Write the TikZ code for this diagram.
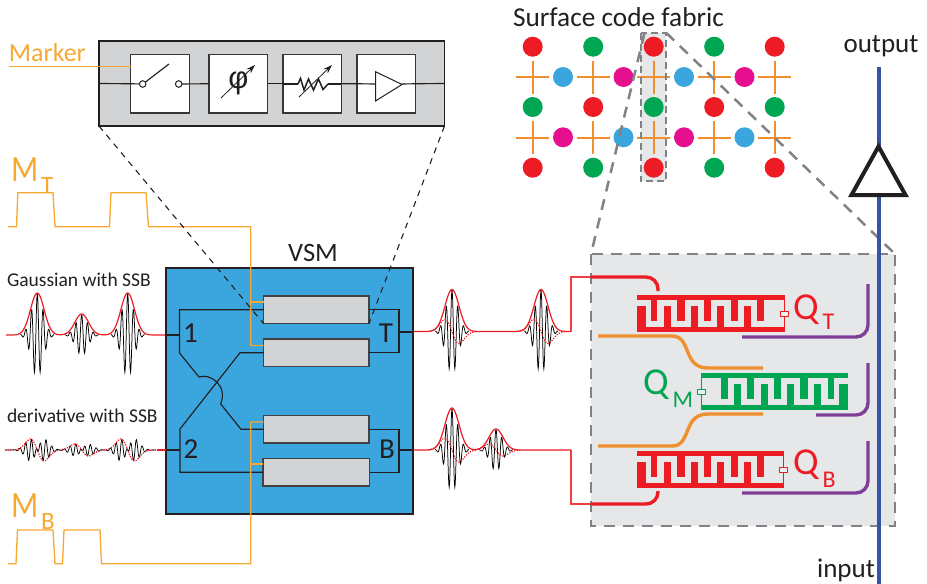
\documentclass[tikz,border=0pt]{standalone}
\usepackage{fontspec}
\usepackage{graphicx}
\setmainfont{Carlito}
\newfontfamily\phifont{Liberation Sans}
\usetikzlibrary{arrows.meta}
\definecolor{mkorange}{HTML}{F7A833}
\definecolor{cqorange}{HTML}{F08F2D}
\definecolor{qred}{HTML}{ED1C24}
\definecolor{qgreen}{HTML}{00A651}
\definecolor{qblue}{HTML}{3AA6DD}
\definecolor{qmag}{HTML}{E6108E}
\definecolor{qpurple}{HTML}{7F3F98}
\definecolor{lineblue}{HTML}{3953A4}
\definecolor{boxgray}{HTML}{D1D3D4}
\definecolor{panelgray}{HTML}{E6E7E8}
\definecolor{dashgray}{HTML}{808285}
\definecolor{ink}{HTML}{231F20}
\newcommand{\fs}[1]{\fontsize{#1}{#1}\selectfont}
\tikzset{
  x=1pt,y=-1pt,
  declare function={gs(\u,\c,\a,\s)=\a*exp(-0.5*((\u-\c)/\s)*((\u-\c)/\s));
    dg(\u,\c,\a,\s)=-\a*1.6487*((\u-\c)/\s)*exp(-0.5*((\u-\c)/\s)*((\u-\c)/\s));},
  lbl/.style={inner sep=0pt,outer sep=0pt,text=ink},
  wire/.style={draw=ink,line width=1.15pt},
  gbox/.style={draw=ink!85,fill=boxgray,line width=1.15pt,inner sep=0pt,outer sep=0pt,minimum height=27.5pt,minimum width=105.5pt},
  wbox/.style={draw=ink!90,fill=white,line width=1.15pt,inner sep=0pt,outer sep=0pt,minimum height=58.5pt,minimum width=58.5pt},
  marker line/.style={draw=mkorange,line width=1.3pt},
  carrier/.style={draw=black,line width=0.75pt},
  envelope/.style={draw=qred,line width=1.2pt},
  dots/.style={draw=qred,line width=1.2pt,dash pattern=on 1.3pt off 1.3pt},
  feed/.style={draw=qred,line width=1.2pt,opacity=.85},
  graydash/.style={draw=dashgray,line width=2.5pt,dash pattern=on 11pt off 8pt},
  qc/.style={circle,inner sep=0pt,outer sep=0pt,minimum size=20pt,fill=#1},
  xarm/.style={draw=cqorange,line width=2pt},
  cpw/.style={line width=3.4pt,line cap=butt,rounded corners=12pt},
}
\newcommand{\burst}[4]{% centre, base, amplitude, sigma
  \pgfmathsetmacro{\da}{#1-2.9*#4}\pgfmathsetmacro{\db}{#1+2.9*#4}
  \draw[carrier] plot[domain=\da:\db,samples=90] (\x,{#2-gs(\x,#1,#3,#4)*cos(62.07*(\x-#1))});
}
\newcommand{\outdots}[4]{%
  \pgfmathsetmacro{\da}{#1-3.4*#4}\pgfmathsetmacro{\db}{#1+3.4*#4}
  \draw[dots] plot[domain=\da:\db,samples=40] (\x,{#2-dg(\x,#1,#3,#4)});
}
\newcommand{\transmon}[2]{% colour, scope options
  \begin{scope}[#2]
    \fill[#1] (0,0) rectangle (147,4.5);
    \fill[#1] (0,32) rectangle (147,37);
    \foreach \a/\b in {14/20,40/48,67/74,94/101,120/127}{\fill[#1] (\a,4) rectangle (\b,26);}
    \foreach \a/\b in {0/9,27/34,54/61,80/87,107/114}{\fill[#1] (\a,11) rectangle (\b,33);}
    \draw[#1,line width=.7pt] (147,0) -- (147,37);
    \draw[#1,line width=.8pt,fill=panelgray!60!white] (143,16) rectangle (151,21);
  \end{scope}
}
\newcommand{\bigM}{\scalebox{0.86}[1]{\fs{37}M}}
\begin{document}
\begin{tikzpicture}
\useasboundingbox (0,0) rectangle (927,584);

% ---------- surface code fabric
\node[lbl,anchor=base west] (fabric) at (513,26) {\fs{27.3}Surface code fabric};
\node[draw=none,fill=panelgray,inner sep=0pt,minimum width=25pt,minimum height=148pt] (hl) at (653.5,107) {};
\foreach \xc in {532.7,593.2,653.7,714.2,774.7}\foreach \yc in {77,137.5}{
  \draw[xarm] (\xc-16.5,\yc) -- (\xc+16.5,\yc);
  \draw[xarm] (\xc,\yc-16.5) -- (\xc,\yc+16.5);
}
\foreach \xc/\yc/\cc in {532.7/46.7/qred,593.2/46.7/qgreen,653.7/46.7/qred,714.2/46.7/qgreen,774.7/46.7/qred,
  532.7/107/qgreen,593.2/107/qred,653.7/107/qgreen,714.2/107/qred,774.7/107/qgreen,
  532.7/167.7/qred,593.2/167.7/qgreen,653.7/167.7/qred,714.2/167.7/qgreen,774.7/167.7/qred,
  563/77/qblue,623.5/77/qmag,684/77/qblue,744.5/77/qmag,
  563/137.3/qmag,623.5/137.3/qblue,684/137.3/qmag,744.5/137.3/qblue}{
  \node[qc=\cc] at (\xc,\yc) {};
}
\draw[draw=dashgray,line width=2.2pt,dash pattern=on 7pt off 4pt] (hl.north west) rectangle (hl.south east);

% ---------- chip panel
\node[fill=panelgray,inner sep=0pt,outer sep=0pt,minimum width=304pt,minimum height=272pt] (panel) at (743,390) {};
\draw[graydash] (hl.north east) -- (panel.north east);
\draw[graydash] (644.5,33) -- (panel.north west);
\draw[graydash] (panel.north west) rectangle (panel.south east);

% qubits and resonators
\transmon{qred}{shift={(637,295)}}
\transmon{qgreen}{shift={(848,373)},xscale=-1}
\transmon{qred}{shift={(636.5,451)}}
\draw[qred,cpw] (591,277) -- (658,277) -- (658,291);
\draw[qred,cpw] (591,504) -- (658,504) -- (658,491);
\draw[cqorange,line width=3.4pt,line cap=butt] (598,336) -- (672,336) .. controls (692,336) and (682,368) .. (708,368) -- (763,368);
\draw[cqorange,line width=3.4pt,line cap=butt] (598,446) -- (672,446) .. controls (692,446) and (682,414) .. (708,414) -- (763,414);
\draw[qpurple,cpw] (742,337) -- (868,337) -- (868,284);
\draw[qpurple,cpw] (816,415) -- (868,415) -- (868,363);
\draw[qpurple,cpw] (742,493) -- (868,493) -- (868,441);

\node[lbl,anchor=base west,text=qred] (qt) at (793,319) {\fs{38}Q\raisebox{-10pt}{\fs{24}\,T}};
\node[lbl,anchor=base west,text=qgreen] (qm) at (643,394) {\fs{38}Q\raisebox{-13pt}{\fs{24}\,M}};
\node[lbl,anchor=base west,text=qred] (qb) at (793,474) {\fs{38}Q\raisebox{-13pt}{\fs{24}\,B}};

% ---------- readout line
\draw[lineblue,line width=4pt] (878.5,67) -- (878.5,584);
\draw[ink,line width=4pt,fill=white,line join=miter] (878.5,146.5) -- (905.5,195) -- (851.5,195) -- cycle;
\node[lbl] (output) at (881,46) {\fs{27}output};
\node[lbl] (input) at (846,570) {\fs{27}input};

% ---------- detail box
\node[draw=ink,fill=boxgray,line width=1.3pt,inner sep=0pt,outer sep=0pt,minimum width=345.5pt,minimum height=85pt] (detail) at (271.75,83.5) {};
\node[wbox] (sw) at (160,83.75) {};
\node[wbox] (ph) at (238.25,83.75) {};
\node[wbox] (rs) at (312.25,83.75) {};
\node[wbox] (am) at (386.25,83.75) {};
\coordinate (swa) at (142.7,84);
\coordinate (swb) at (178.7,84);
\draw[wire] (detail.west) -- (sw.west) -- (swa);
\draw[wire] (swb) -- (ph.west);
\draw[wire] (ph.east) -- (rs.west);
\draw[wire] (rs.east) -- (am.west) -- (375.5,84);
\draw[wire] (402,84) -- (am.east) -- (detail.east);
\draw[draw=ink,fill=white,line width=1pt] (swa) circle (3.3);
\draw[draw=ink,fill=white,line width=1pt] (swb) circle (3.3);
\draw[wire] (145.5,82) -- (169,64);
\node[lbl,text=ink] (phi) at (238.3,83) {\fs{31}\phifont φ};
\draw[ink,line width=.8pt,-{Stealth[length=9pt,width=6pt]}] (221,98) -- (255,65);
\draw[ink,line width=2pt] (283,84) -- (298,84);
\draw[ink,line width=2pt] (328,84) -- (341,84);
\draw[ink,line width=1.5pt,line join=miter] (298,84) -- (300.5,78.3) -- (304,90) -- (308.5,79) -- (313.5,90) -- (318.5,79) -- (323,89.5) -- (328,84);
\draw[ink,line width=.8pt,-{Stealth[length=9pt,width=6pt]}] (299,97) -- (332,65);
\draw[draw=ink,fill=white,line width=1pt] (375.5,71.7) -- (402,84.5) -- (375.5,101) -- cycle;
\coordinate (mk) at (9,66.7);
\draw[marker line] (mk) -- (sw.west |- mk);
\node[lbl,anchor=base west,text=mkorange] (markerlbl) at (9,61) {\fs{26}Marker};

% ---------- VSM
\node[draw=ink,fill=qblue,line width=1.3pt,inner sep=0pt,outer sep=0pt,minimum width=247pt,minimum height=246pt] (vsm) at (289.5,391) {};
\node[lbl] (vsmlbl) at (313,253) {\fs{26.5}VSM};
\node[gbox] (tt) at (316.25,309.75) {};
\node[gbox] (tb) at (316.25,352.75) {};
\node[gbox] (bt) at (316.25,429.25) {};
\node[gbox,minimum width=106.5pt] (bb) at (316.25,472.25) {};
\coordinate (in1) at (179.5,335);
\coordinate (in2) at (180,450);
\coordinate (outT) at (399,332);
\coordinate (outB) at (399,450);
\draw[wire] (tt.west) -- (in1 |- tt.west) -- (179.5,353) -- (199,377)
   .. controls (210,373) and (228,385) .. (220.7,404) -- (241,429.25) -- (bt.west);
\draw[wire] (bb.west) -- (in2 |- bb.west) -- (180,429) -- (240,352.75) -- (tb.west);
\draw[wire] (tt.east) -- (outT |- tt.east) -- (outT |- tb.east) -- (tb.east);
\draw[wire] (bt.east) -- (outB |- bt.east) -- (outB |- bb.east) -- (bb.east);
\draw[wire] (vsm.west |- in1) -- (in1);
\draw[wire] (vsm.west |- in2) -- (in2);
\draw[wire] (outT) -- (vsm.east |- outT);
\draw[wire] (outB) -- (vsm.east |- outB);
\node[lbl] (n1) at (190.5,333) {\fs{29}1};
\node[lbl] (n2) at (191,449) {\fs{29}2};
\node[lbl] (nT) at (386,333) {\fs{29}T};
\node[lbl] (nB) at (387,449) {\fs{29}B};

% ---------- marker waveforms
\coordinate (mtbus) at (250.7,226.7);
\coordinate (mbbus) at (250.7,563.7);
\coordinate (mta) at (263.5,302);
\coordinate (mba) at (263.5,422);
\coordinate (mbb) at (263,464);
\draw[marker line] (8,226.7) -- (16.5,226.7) -- (17.8,192.7) -- (53,192.7) -- (55,226.7) -- (109.5,226.7) -- (111,192.7) -- (146,192.7) -- (148.5,226.7) -- (mtbus) -- (mtbus |- 263,345.5) -- (263.5,345.5);
\draw[marker line] (mtbus |- mta) -- (mta);
\draw[marker line] (8,563.7) -- (16,563.7) -- (17.5,530) -- (53,530) -- (55,563.7) -- (62.5,563.7) -- (64,530) -- (100,530) -- (101.5,563.7) -- (mbbus) -- (mbbus |- mba) -- (mba);
\draw[marker line] (mbbus |- mbb) -- (mbb);
\node[lbl,anchor=base west,text=mkorange] (mt) at (11,181) {\bigM\raisebox{-12pt}{\fs{25}\hspace{3pt}T}};
\node[lbl,anchor=base west,text=mkorange] (mb) at (11,517) {\bigM\raisebox{-12pt}{\fs{25}\hspace{3pt}B}};

% ---------- detail projection
\draw[ink,line width=1.1pt,dash pattern=on 6pt off 5.5pt] (detail.south west) -- (tt.south west);
\draw[ink,line width=1.1pt,dash pattern=on 6pt off 5.5pt] (detail.south east) -- (tt.south east);

% ---------- input waveforms
\node[lbl,anchor=base west] (gausslbl) at (7,286) {\fs{19.5}Gaussian with SSB};
\node[lbl,anchor=base west] (derivlbl) at (7,422) {\fs{19.5}derivative with SSB};
\burst{37.3}{335}{42}{5.8}
\burst{81.7}{335}{20.5}{5.8}
\burst{127.7}{335}{42}{5.8}
\draw[envelope] plot[domain=6:165,samples=260] (\x,{335-gs(\x,37.3,42,6.8)-gs(\x,81.7,21,6.8)-gs(\x,127.7,42,6.8)});
\draw[carrier] plot[domain=5:156,samples=340] (\x,{450-(dg(\x,37.3,11,6.8)*cos(62.07*(\x-37.3))+dg(\x,81.7,6,6.8)*cos(62.07*(\x-81.7))+dg(\x,127.7,11,6.8)*cos(62.07*(\x-127.7)))});
\draw[dots] plot[domain=5:156,samples=120] (\x,{450-dg(\x,37.3,11,6.8)-dg(\x,81.7,6,6.8)-dg(\x,127.7,11,6.8)});
\draw[envelope] (157,450) -- (vsm.west |- 157,450);

% ---------- output waveforms
\burst{452}{331.5}{42}{5.8}
\burst{541}{331.5}{42}{5.8}
\burst{452}{450}{42}{5.8}
\burst{496}{450}{21}{5.8}
\outdots{452}{331.5}{12}{7}
\outdots{541}{331.5}{12}{7}
\outdots{452}{450}{12}{7}
\outdots{496}{450}{6}{7}
\draw[envelope] plot[domain=413.5:571,samples=240] (\x,{331.5-gs(\x,452,42,7)-gs(\x,541,42,7)});
\draw[envelope] plot[domain=413.5:571,samples=240] (\x,{450-gs(\x,452,42,7)-gs(\x,496,21,7)});
\coordinate (fT) at (571,331.5);
\coordinate (fB) at (571,450);
\draw[feed] (fT) -- (571,277) -- (591,277);
\draw[feed] (fB) -- (571,504) -- (591,504);
\end{tikzpicture}
\end{document}
